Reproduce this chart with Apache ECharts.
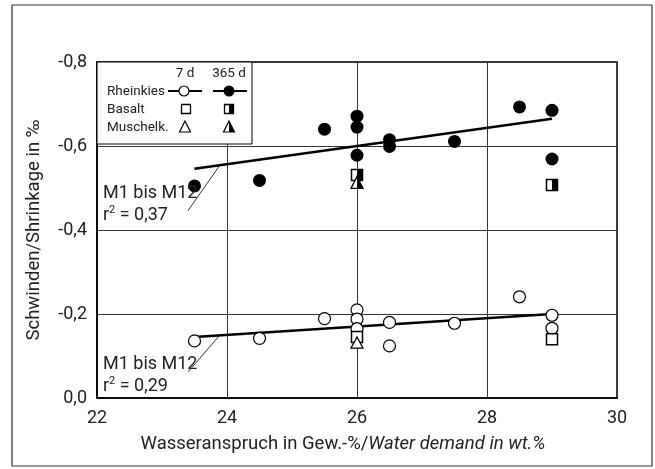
<!DOCTYPE html>
<html>
<head>
<meta charset="utf-8">
<script src="https://cdn.jsdelivr.net/npm/echarts@6/dist/echarts.min.js"></script>
<style>
html,body{margin:0;padding:0;background:#fff;}
#c{width:655px;height:469px;}
</style>
</head>
<body>
<div id="c"></div>
<script>
// ---- data ----
const xTicks = [22, 24, 26, 28, 30];
const yTicks = [-0.8, -0.6, -0.4, -0.2, 0.0];
// Rheinkies 365 d (filled circles)
const rhein365 = [[23.5,-0.505],[24.5,-0.518],[25.5,-0.640],[26,-0.671],[26,-0.645],[26,-0.578],[26.5,-0.615],[26.5,-0.599],[27.5,-0.611],[28.5,-0.693],[29,-0.685],[29,-0.569]];
// Rheinkies 7 d (open circles)
const rhein7 = [[23.5,-0.136],[24.5,-0.142],[25.5,-0.189],[26,-0.210],[26,-0.188],[26,-0.165],[26.5,-0.180],[26.5,-0.124],[27.5,-0.178],[28.5,-0.241],[29,-0.197],[29,-0.166]];
// Basalt
const basalt7 = [[26,-0.145],[29,-0.140]];
const basalt365 = [[26,-0.531],[29,-0.507]];
// Muschelkalk
const musch7 = [[26,-0.132]];
const musch365 = [[26,-0.512]];
// regression lines (M1 bis M12)
const fit365 = [[23.5,-0.546],[29,-0.665]];
const fit7 = [[23.5,-0.145],[29,-0.200]];
// annotation leader lines
const leader365 = [[23.4,-0.446],[23.88,-0.552]];
const leader7 = [[23.4,-0.062],[23.88,-0.148]];
const r2_365 = '0,37';
const r2_7 = '0,29';

const FONT = "Roboto,'Liberation Sans',sans-serif";
const TXT = '#222';
const chart = echarts.init(document.getElementById('c'), null, {renderer:'canvas'});

function halfSquare(params, api){
  const p = api.coord([api.value(0), api.value(1)]);
  const s = 11;
  return {type:'group', children:[
    {type:'rect', shape:{x:p[0]-s/2, y:p[1]-s/2, width:s, height:s}, style:{fill:'#fff', stroke:'#000', lineWidth:1.5}},
    {type:'rect', shape:{x:p[0], y:p[1]-s/2, width:s/2, height:s}, style:{fill:'#000'}}
  ]};
}
function halfTri(params, api){
  const p = api.coord([api.value(0), api.value(1)]);
  const s = 12;
  const top=[p[0], p[1]-s*0.55], bl=[p[0]-s/2, p[1]+s*0.45], br=[p[0]+s/2, p[1]+s*0.45], bc=[p[0], p[1]+s*0.45];
  return {type:'group', children:[
    {type:'polygon', shape:{points:[top,bl,br]}, style:{fill:'#fff', stroke:'#000', lineWidth:1.3}},
    {type:'polygon', shape:{points:[top,bc,br]}, style:{fill:'#000'}}
  ]};
}
const triPath = 'path://M5,0 L10,9 L0,9 Z';

const fmt = v => v.toFixed(1).replace('.', ',');

// legend graphic
const lgX = 97, lgY = 62;
const LF = '13.5px ' + FONT;
const legendEls = [
  {type:'rect', shape:{x:lgX, y:lgY, width:155, height:82}, style:{fill:'#fff', stroke:'#000', lineWidth:1}, z:10},
  {type:'text', x:185, y:74, style:{text:'7 d', font:LF, fill:TXT, align:'center', verticalAlign:'middle'}, z:11},
  {type:'text', x:229, y:74, style:{text:'365 d', font:LF, fill:TXT, align:'center', verticalAlign:'middle'}, z:11},
  {type:'text', x:107, y:92, style:{text:'Rheinkies', font:LF, fill:TXT, align:'left', verticalAlign:'middle'}, z:11},
  {type:'text', x:107, y:110, style:{text:'Basalt', font:LF, fill:TXT, align:'left', verticalAlign:'middle'}, z:11},
  {type:'text', x:107, y:128, style:{text:'Muschelk.', font:LF, fill:TXT, align:'left', verticalAlign:'middle'}, z:11},
  {type:'line', shape:{x1:168, y1:91, x2:202, y2:91}, style:{stroke:'#000', lineWidth:2}, z:11},
  {type:'circle', shape:{cx:184, cy:91, r:5}, style:{fill:'#fff', stroke:'#000', lineWidth:1.2}, z:12},
  {type:'line', shape:{x1:213, y1:91, x2:247, y2:91}, style:{stroke:'#000', lineWidth:2}, z:11},
  {type:'circle', shape:{cx:229, cy:91, r:5.5}, style:{fill:'#000'}, z:12},
  {type:'rect', shape:{x:181.5, y:104.5, width:9, height:9}, style:{fill:'#fff', stroke:'#000', lineWidth:1.3}, z:11},
  {type:'rect', shape:{x:224.5, y:104.5, width:9, height:9}, style:{fill:'#fff', stroke:'#000', lineWidth:1.3}, z:11},
  {type:'rect', shape:{x:229, y:104.5, width:4.5, height:9}, style:{fill:'#000'}, z:12},
  {type:'polygon', shape:{points:[[185,121],[179.5,132],[190.5,132]]}, style:{fill:'#fff', stroke:'#000', lineWidth:1.2}, z:11},
  {type:'polygon', shape:{points:[[229,121],[223.5,132],[234.5,132]]}, style:{fill:'#fff', stroke:'#000', lineWidth:1.2}, z:11},
  {type:'polygon', shape:{points:[[229,121],[229,132],[234.5,132]]}, style:{fill:'#000'}, z:12},
  // outer frame
  {type:'rect', shape:{x:12, y:5, width:640, height:461}, style:{fill:'none', stroke:'#333', lineWidth:1.2}, z:1},
  // annotations
  {type:'text', x:103, y:193, style:{text:'M1 bis M12', font:'18px '+FONT, fill:TXT, verticalAlign:'middle'}, z:11},
  {type:'text', x:103, y:215, style:{text:'r{s|2} = '+r2_365, font:'18px '+FONT, fill:TXT, verticalAlign:'middle', rich:{s:{fontSize:11, fontFamily:FONT, verticalAlign:'top', padding:[0,0,9,0]}}}, z:11},
  {type:'text', x:103, y:364, style:{text:'M1 bis M12', font:'18px '+FONT, fill:TXT, verticalAlign:'middle'}, z:11},
  {type:'text', x:103, y:386, style:{text:'r{s|2} = '+r2_7, font:'18px '+FONT, fill:TXT, verticalAlign:'middle', rich:{s:{fontSize:11, fontFamily:FONT, verticalAlign:'top', padding:[0,0,9,0]}}}, z:11}
];

const option = {
  backgroundColor:'#fff',
  animation:false,
  grid:{left:97, top:62, right:38, bottom:71, show:true, borderColor:'#000', borderWidth:1.5, backgroundColor:'transparent'},
  xAxis:{
    type:'value', min:22, max:30, interval:2,
    name:'Wasseranspruch in Gew.-%/{i|Water demand in wt.%}',
    nameLocation:'middle', nameGap:37,
    nameTextStyle:{fontFamily:FONT, fontSize:18.5, color:TXT, padding:[0,28,0,0], rich:{i:{fontStyle:'italic', fontFamily:FONT, fontSize:18.5, color:TXT}}},
    axisLine:{show:true, lineStyle:{color:'#000', width:1.5}},
    axisTick:{show:false},
    axisLabel:{fontFamily:FONT, fontSize:18, color:TXT, margin:11, formatter: v => String(v)},
    splitLine:{show:true, lineStyle:{color:'#333', width:1}}
  },
  yAxis:{
    type:'value', min:-0.8, max:0, interval:0.2, inverse:true,
    name:'Schwinden/Shrinkage in ‰',
    nameLocation:'middle', nameGap:53,
    nameTextStyle:{fontFamily:FONT, fontSize:18.5, color:TXT},
    axisLine:{show:true, lineStyle:{color:'#000', width:1.5}},
    axisTick:{show:false},
    axisLabel:{fontFamily:FONT, fontSize:18, color:TXT, margin:10, formatter: fmt},
    splitLine:{show:true, lineStyle:{color:'#333', width:1}}
  },
  graphic: legendEls,
  series:[
    {type:'line', data:fit365, symbol:'none', lineStyle:{color:'#000', width:2.5}, z:3},
    {type:'line', data:fit7, symbol:'none', lineStyle:{color:'#000', width:2.5}, z:3},
    {type:'line', data:leader365, symbol:'none', lineStyle:{color:'#000', width:0.8}, z:3},
    {type:'line', data:leader7, symbol:'none', lineStyle:{color:'#000', width:0.8}, z:3},
    {type:'scatter', data:rhein365, symbol:'circle', symbolSize:13, itemStyle:{color:'#000', opacity:1}, z:4},
    {type:'scatter', data:rhein7, symbol:'circle', symbolSize:12, itemStyle:{color:'#fff', borderColor:'#000', borderWidth:1.2, opacity:1}, z:4},
    {type:'scatter', data:basalt7, symbol:'rect', symbolSize:11, itemStyle:{color:'#fff', borderColor:'#000', borderWidth:1.5, opacity:1}, z:5},
    {type:'scatter', data:musch7, symbol:triPath, symbolSize:[12,11], itemStyle:{color:'#fff', borderColor:'#000', borderWidth:1.3, opacity:1}, z:6},
    {type:'custom', data:basalt365, renderItem:halfSquare, z:5},
    {type:'custom', data:musch365, renderItem:halfTri, z:6}
  ]
};
chart.setOption(option);
</script>
</body>
</html>
